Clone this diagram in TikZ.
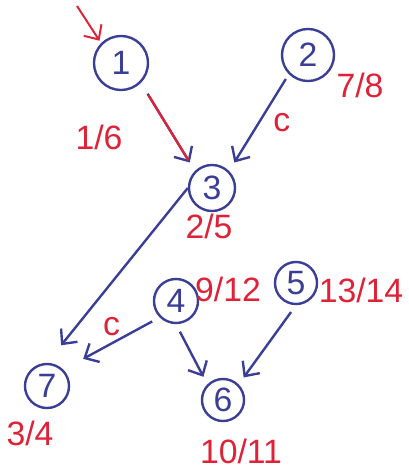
\documentclass[tikz,border=0pt]{standalone}
\usepackage{fontspec}
\setmainfont{Liberation Sans}
\usetikzlibrary{arrows.meta}
\definecolor{ink}{RGB}{58,62,150}
\definecolor{pen}{RGB}{222,34,56}
\begin{document}
\begin{tikzpicture}[x=0.025cm, y=-0.025cm,
  vert/.style={draw=ink,circle,line width=1.7pt,inner sep=0pt,minimum size=1.15cm,text=ink,font=\fontsize{24}{26}\selectfont},
  num/.style={text=pen,font=\fontsize{24}{26}\selectfont},
  edge/.style={draw=ink,line width=1.7pt,-{Straight Barb[length=8pt,width=15pt]},shorten <=9pt,shorten >=7pt},
  redpass/.style={draw=pen,line width=1.6pt}]
\useasboundingbox (0,0) rectangle (408,472);
\node[vert,minimum size=1.35cm] (n1) at (121,63) {1};
\node[vert,minimum size=1.3cm] (n2) at (308,55) {2};
\node[vert] (n3) at (212,188) {3};
\node[vert,minimum size=1.1cm] (n4) at (176,301) {4};
\node[vert,minimum size=1.05cm] (n5) at (296,283) {5};
\node[vert,minimum size=1.1cm] (n7) at (47,386) {7};
\node[vert,minimum size=1.05cm] (n6) at (223,400) {6};
\node[num] (t1) at (99,137) {1/6};
\node[num] (t2) at (360,85) {7/8};
\node[num] (t3) at (209,226) {2/5};
\node[num] (t4) at (228,289) {9/12};
\node[num] (t5) at (361,290) {13/14};
\node[num] (t7) at (30,433) {3/4};
\node[num] (t6) at (241,451) {10/11};
\coordinate (start) at (77,6);
% entry and tree edges
\draw[edge,draw=pen,shorten <=0pt,shorten >=2pt,line width=1.4pt] (start) -- (n1.north west);
\draw[edge] (n1.south east) -- (n3.north west);
\draw[redpass,shorten <=10pt,shorten >=9pt] (n1.south east) -- (n3.north west);
\draw[edge,shorten <=4pt] (n2.south west) -- (n3.north east)
  node[midway,right=6pt,num] {c};
\draw[edge,shorten <=0pt,shorten >=16pt] (n3.west) -- (n7.north);
\draw[edge,shorten <=6pt,shorten >=16pt] (n4.south west) -- (n7.north east)
  node[midway,above=1pt,num] {c};
\draw[edge,shorten <=6pt,shorten >=6pt] (n4.south) -- (n6.north west);
\draw[edge,shorten <=6pt,shorten >=6pt] (n5.south) -- (n6.north east);
\end{tikzpicture}
\end{document}
